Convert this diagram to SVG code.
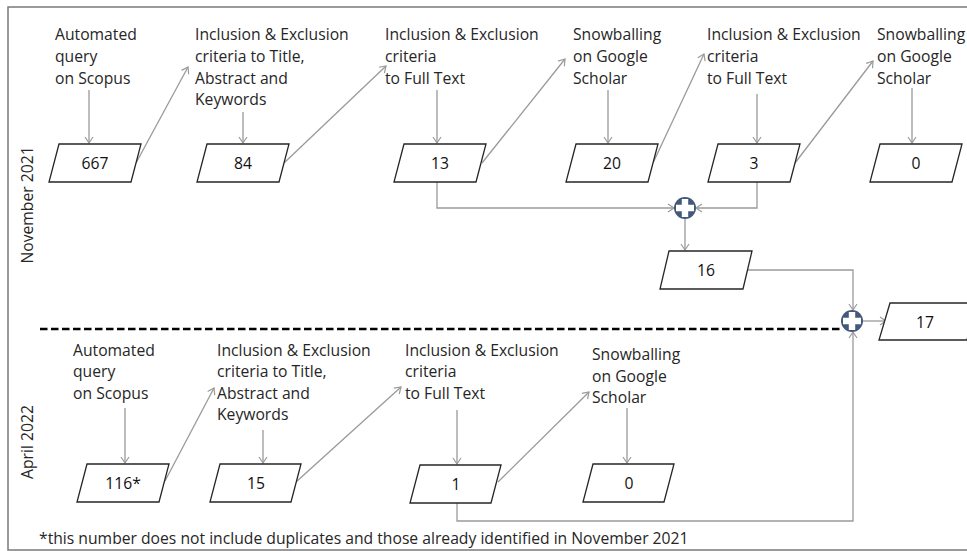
<svg xmlns="http://www.w3.org/2000/svg" width="967" height="551" viewBox="0 0 967 551">
<defs>
<marker id="arr" markerUnits="userSpaceOnUse" markerWidth="12" markerHeight="12" refX="9" refY="6" orient="auto">
<path d="M3,2 L9,6 L3,10" fill="none" stroke="#9a9a9a" stroke-width="1.2"/>
</marker>
<g id="plus">
<circle r="11" fill="#44587a"/>
<polygon points="-3.2,-9 3.2,-9 3.2,-3.2 9,-3.2 9,3.2 3.2,3.2 3.2,9 -3.2,9 -3.2,3.2 -9,3.2 -9,-3.2 -3.2,-3.2" fill="#ffffff"/>
</g>
</defs>
<style>
text{font-family:"Open Sans","Liberation Sans",sans-serif;font-size:15.7px;fill:#262626}
.num{text-anchor:middle;fill:#111}
.box{fill:#ffffff;stroke:#262626;stroke-width:1.3}
.c{fill:none;stroke:#9a9a9a;stroke-width:1.3}
</style>
<rect x="8" y="7" width="975" height="543" fill="#ffffff" stroke="#7a7a7a" stroke-width="1.5"/>
<text transform="translate(33,205) rotate(-90)" text-anchor="middle">November 2021</text>
<text transform="translate(33,442) rotate(-90)" text-anchor="middle">April  2022</text>
<line x1="40" y1="329" x2="840" y2="329" stroke="#000" stroke-width="2.5" stroke-dasharray="7.5 3.5"/>
<g id="labels">
<text x="55" y="40">Automated</text><text x="55" y="62">query</text><text x="55" y="84">on Scopus</text>
<text x="195" y="40">Inclusion &amp; Exclusion</text><text x="195" y="62">criteria to Title,</text><text x="195" y="84">Abstract and</text><text x="195" y="105">Keywords</text>
<text x="385" y="40">Inclusion &amp; Exclusion</text><text x="385" y="62">criteria</text><text x="385" y="84">to Full Text</text>
<text x="573" y="40">Snowballing</text><text x="573" y="62">on Google</text><text x="573" y="84">Scholar</text>
<text x="707" y="40">Inclusion &amp; Exclusion</text><text x="707" y="62">criteria</text><text x="707" y="84">to Full Text</text>
<text x="877" y="40">Snowballing</text><text x="877" y="62">on Google</text><text x="877" y="84">Scholar</text>
<text x="73" y="356">Automated</text><text x="73" y="377">query</text><text x="73" y="399">on Scopus</text>
<text x="217" y="356">Inclusion &amp; Exclusion</text><text x="217" y="377">criteria to Title,</text><text x="217" y="399">Abstract and</text><text x="217" y="420">Keywords</text>
<text x="405" y="356">Inclusion &amp; Exclusion</text><text x="405" y="377">criteria</text><text x="405" y="399">to Full Text</text>
<text x="592" y="360">Snowballing</text><text x="592" y="382">on Google</text><text x="592" y="403">Scholar</text>
</g>
<g id="connectors">
<line class="c" x1="89" y1="90" x2="89" y2="143" marker-end="url(#arr)"/>
<line class="c" x1="243" y1="112" x2="243" y2="143" marker-end="url(#arr)"/>
<line class="c" x1="437" y1="90" x2="437" y2="143" marker-end="url(#arr)"/>
<line class="c" x1="608" y1="90" x2="608" y2="143" marker-end="url(#arr)"/>
<line class="c" x1="757" y1="94" x2="757" y2="143" marker-end="url(#arr)"/>
<line class="c" x1="912" y1="88" x2="912" y2="143" marker-end="url(#arr)"/>
<line class="c" x1="136" y1="163" x2="188" y2="67" marker-end="url(#arr)"/>
<line class="c" x1="284" y1="163" x2="386" y2="66" marker-end="url(#arr)"/>
<line class="c" x1="482" y1="163" x2="565" y2="59" marker-end="url(#arr)"/>
<line class="c" x1="653" y1="163" x2="704" y2="54" marker-end="url(#arr)"/>
<line class="c" x1="795" y1="163" x2="873" y2="61" marker-end="url(#arr)"/>
<polyline class="c" points="437,182 437,208 674,208" marker-end="url(#arr)"/>
<polyline class="c" points="757,182 757,208 696,208" marker-end="url(#arr)"/>
<line class="c" x1="685" y1="219" x2="685" y2="250" marker-end="url(#arr)"/>
<polyline class="c" points="747,270 853,270 853,310" marker-end="url(#arr)"/>
<line class="c" x1="863" y1="321" x2="886" y2="321" marker-end="url(#arr)"/>
<polyline class="c" points="457,503 457,521 853,521 853,332" marker-end="url(#arr)"/>
<line class="c" x1="125" y1="408" x2="125" y2="463" marker-end="url(#arr)"/>
<line class="c" x1="263" y1="430" x2="263" y2="463" marker-end="url(#arr)"/>
<line class="c" x1="457" y1="410" x2="457" y2="464" marker-end="url(#arr)"/>
<line class="c" x1="627" y1="408" x2="627" y2="463" marker-end="url(#arr)"/>
<line class="c" x1="165" y1="481" x2="214" y2="388" marker-end="url(#arr)"/>
<line class="c" x1="296" y1="482" x2="401" y2="387" marker-end="url(#arr)"/>
<line class="c" x1="498" y1="482" x2="589" y2="392" marker-end="url(#arr)"/>
</g>
<g id="n667"><polygon class="box" points="59,144 141,144 131,182 49,182"/><text class="num" x="95" y="169">667</text></g>
<g id="n84"><polygon class="box" points="207,144 289,144 279,182 197,182"/><text class="num" x="243" y="169">84</text></g>
<g id="n13"><polygon class="box" points="404,144 486,144 476,182 394,182"/><text class="num" x="440" y="169">13</text></g>
<g id="n20"><polygon class="box" points="576,144 658,144 648,182 566,182"/><text class="num" x="612" y="169">20</text></g>
<g id="n3"><polygon class="box" points="718,144 800,144 790,182 708,182"/><text class="num" x="754" y="169">3</text></g>
<g id="n0a"><polygon class="box" points="880,144 962,144 952,182 870,182"/><text class="num" x="916" y="169">0</text></g>
<g id="sum1"><use href="#plus" x="685" y="208"/></g>
<g id="n16"><polygon class="box" points="669,251 752,251 743,289 660,289"/><text class="num" x="706" y="276">16</text></g>
<g id="sum2"><use href="#plus" x="852" y="321"/></g>
<g id="n17"><polygon class="box" points="890,303 976,303 967,340 879,340"/><text class="num" x="925" y="328">17</text></g>
<g id="n116"><polygon class="box" points="87,464 169,464 159,502 77,502"/><text class="num" x="123" y="489">116*</text></g>
<g id="n15"><polygon class="box" points="220,464 301,464 291,502 210,502"/><text class="num" x="256" y="489">15</text></g>
<g id="n1"><polygon class="box" points="420,465 501,465 491,503 410,503"/><text class="num" x="456" y="490">1</text></g>
<g id="n0b"><polygon class="box" points="593,464 674,464 664,502 583,502"/><text class="num" x="629" y="489">0</text></g>
<text x="39" y="544">*this number does not include duplicates and those already identified in November 2021</text>
</svg>
